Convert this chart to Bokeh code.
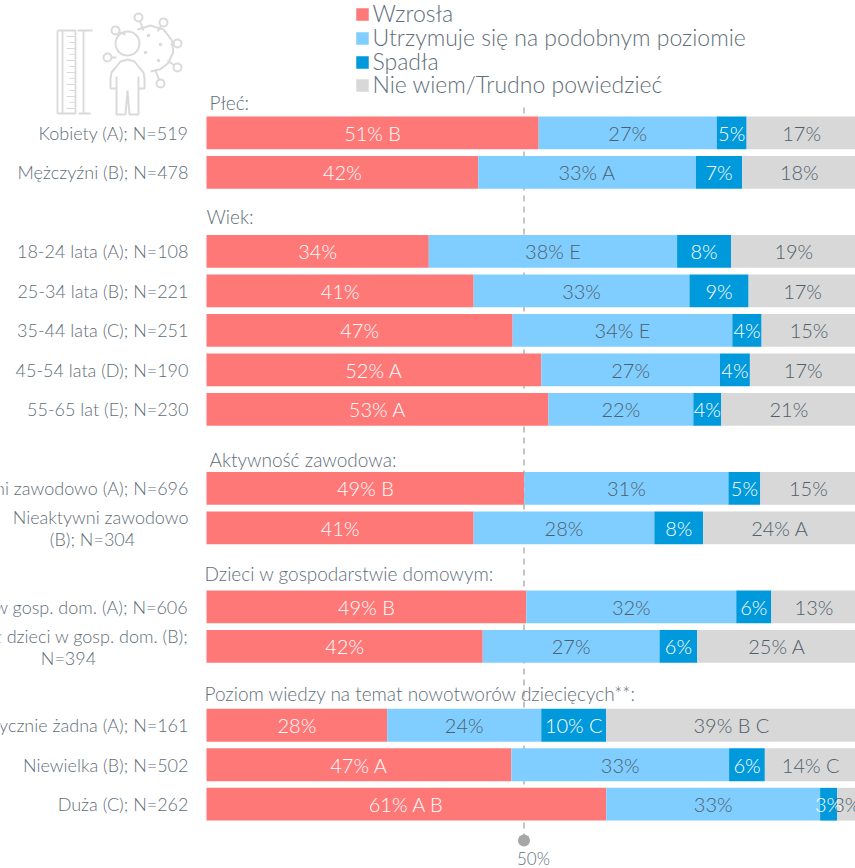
from bokeh.plotting import figure
from bokeh.models import Range1d, ColumnDataSource
from bokeh.core.properties import value
from bokeh.embed import file_html
from bokeh.resources import INLINE
import numpy as np

FONT = "Lato Light"
TXT = "#5f6e79"
TXT_DARK = "#4f5f6c"
TXT_LIGHT = "#ffffff"

series_names = ["Wzrosła", "Utrzymuje się na podobnym poziomie", "Spadła", "Nie wiem/Trudno powiedzieć"]
series_colors = ["#ff7878", "#80ceff", "#0099dc", "#d8d8d8"]

row_labels = ["Kobiety (A); N=519", "Mężczyźni (B); N=478",
              "18-24 lata (A); N=108", "25-34 lata (B); N=221", "35-44 lata (C); N=251",
              "45-54 lata (D); N=190", "55-65 lat (E); N=230",
              "Aktywni zawodowo (A); N=696", "Nieaktywni zawodowo",
              "Dzieci w gosp. dom. (A); N=606", "Bez dzieci w gosp. dom. (B);",
              "Praktycznie żadna (A); N=161", "Niewielka (B); N=502", "Duża (C); N=262"]
row_slots = [0, 1, 3, 4, 5, 6, 7, 9, 10, 12, 13, 15, 16, 17]

wzrosla = [51.1, 41.8, 34.2, 41.1, 47.1, 51.5, 52.6, 48.9, 41.1, 49.2, 42.5, 27.8, 46.9, 61.5]
podobny = [27.4, 33.5, 38.2, 33.2, 33.8, 27.5, 22.3, 31.4, 27.8, 32.3, 27.2, 23.7, 33.5, 32.9]
spadla = [4.6, 7.1, 8.3, 9.1, 4.5, 4.6, 4.3, 4.9, 7.5, 5.4, 5.8, 10.0, 5.5, 2.6]
nie_wiem = [16.9, 17.6, 19.3, 16.6, 14.6, 16.4, 20.8, 14.8, 23.6, 13.1, 24.5, 38.5, 14.1, 3.0]

wzrosla_txt = ["51% B", "42%", "34%", "41%", "47%", "52% A", "53% A", "49% B", "41%", "49% B", "42%", "28%", "47% A", "61% A B"]
podobny_txt = ["27%", "33% A", "38% E", "33%", "34% E", "27%", "22%", "31%", "28%", "32%", "27%", "24%", "33%", "33%"]
spadla_txt = ["5%", "7%", "8%", "9%", "4%", "4%", "4%", "5%", "8%", "6%", "6%", "10% C", "6%", "3%"]
nie_wiem_txt = ["17%", "18%", "19%", "17%", "15%", "17%", "21%", "15%", "24% A", "13%", "25% A", "39% B C", "14% C", "3%"]

W, H = 855, 868
PX_PER_PCT = 6.5
PX_PER_SLOT = 39.49
BAR_LEFT, SLOT0 = 206.0, 132.4

def X(px):
    return (np.asarray(px, dtype=float) - BAR_LEFT) / PX_PER_PCT

def Y(px):
    return (np.asarray(px, dtype=float) - SLOT0) / PX_PER_SLOT

p = figure(width=W, height=H, output_backend="svg", toolbar_location=None,
           x_range=Range1d(float(X(0)), float(X(W))), y_range=Range1d(float(Y(H)), float(Y(0))),
           min_border=0, outline_line_color=None)
p.axis.visible = False
p.grid.visible = False
p.background_fill_color = "white"
p.border_fill_color = "white"

# 50% marker
MARK = float(X(523.5))
p.line([MARK, MARK], [float(Y(107)), float(Y(840))], line_color="#a6a6a6", line_width=1.3, line_dash="6 5")
p.scatter([MARK], [float(Y(840))], size=12, marker="circle", fill_color="#a6a6a6", line_color=None)
p.text([float(X(533))], [float(Y(858))], text=["50%"], text_font=value(FONT), text_font_size="17px",
       text_color=TXT, text_align="center", text_baseline="middle")

# bars
keys = ["w", "p", "s", "n"]
src = ColumnDataSource(dict(y=row_slots, w=wzrosla, p=podobny, s=spadla, n=nie_wiem))
stack = p.hbar_stack(keys, y="y", height=0.83, color=series_colors, line_color=None, source=src)

# segment labels
mat = np.array([wzrosla, podobny, spadla, nie_wiem])
ends = np.cumsum(mat, axis=0)
starts = ends - mat
centers = (starts + ends) / 2
txt_rows = [wzrosla_txt, podobny_txt, spadla_txt, nie_wiem_txt]
txt_cols = [TXT_LIGHT, TXT_DARK, TXT_LIGHT, TXT_DARK]
for c, t, col in zip(centers, txt_rows, txt_cols):
    p.text(list(c), row_slots, text=t, text_font=value(FONT), text_font_size="20px",
           text_color=col, text_align="center", text_baseline="middle")

# row labels
LABEL_Y_SHIFT = {8: -0.27, 10: -0.27}
lab_y = [s + LABEL_Y_SHIFT.get(i, 0) for i, s in enumerate(row_slots)]
p.text([float(X(188))] * len(row_labels), lab_y, text=row_labels, text_font=value(FONT), text_font_size="18px",
       text_color=TXT, text_align="right", text_baseline="middle")
p.text([float(X(92)), float(X(68))], [row_slots[8] + 0.29, row_slots[10] + 0.29], text=["(B); N=304", "N=394"],
       text_font=value(FONT), text_font_size="18px", text_color=TXT, text_align="center", text_baseline="middle")

# group headers
group_titles = ["Płeć:", "Wiek:", "Aktywność zawodowa:", "Dzieci w gospodarstwie domowym:",
                "Poziom wiedzy na temat nowotworów dziecięcych**:"]
title_px = [209, 206, 209, 204, 204]
title_py = [101.5, 215.5, 458.5, 572.5, 692.5]
p.text(list(X(title_px)), list(Y(title_py)), text=group_titles, text_font=value(FONT), text_font_size="19px",
       text_color=TXT, text_align="left", text_baseline="middle")

# legend: colour squares and labels
legend_py = [14, 38, 62, 85]
p.scatter([float(X(362))] * 4, list(Y(legend_py)), marker="square", size=12.5, fill_color=series_colors, line_color=None)
p.text([float(X(372))] * 4, list(Y(np.array(legend_py) - 2)), text=series_names, text_font=value(FONT), text_font_size="23px",
       text_color=TXT, text_align="left", text_baseline="middle")

# icon (decoration, page-pixel coordinates)
IC = "#dadada"
def poly(xs, ys, w=1.8):
    p.line(list(X(xs)), list(Y(ys)), line_color=IC, line_width=w)
poly([57, 75, 75, 57, 57], [30, 30, 113, 113, 30])
poly([62, 62], [30, 113])
for ty in range(36, 112, 6):
    poly([69 if (ty - 36) % 12 else 66, 75], [ty, ty], 1.2)
poly([83, 83], [30, 113])
poly([77, 92], [30, 30])
poly([78, 90], [113, 113])
# head and body
p.scatter([float(X(127))], [float(Y(43))], marker="circle", size=24, fill_color="white", line_color=IC, line_width=2)
poly([116, 111, 110, 110, 116], [66, 72, 78, 88, 88], 2)
poly([138, 143, 144, 144, 138], [66, 72, 78, 88, 88], 2)
poly([116, 120, 127, 134, 138], [66, 61, 59, 61, 66], 2)
poly([116, 116, 125, 127, 129, 138, 138], [76, 114, 114, 90, 114, 114, 76], 2)
# virus
a = np.radians([-125, -90, -55, -20, 10, 40, 65, 90])
p.line(list(X(150 + 23 * np.cos(a))), list(Y(48 + 23 * np.sin(a))), line_color=IC, line_width=2)
ends_x = [138, 163, 177, 177, 160, 115, 107]
ends_y = [17, 22, 43, 67, 83, 30, 57]
from_x = [143, 157, 170, 167, 155, 125, 116]
from_y = [30, 31, 44, 60, 70, 34, 57]
for ex, ey, fx, fy in zip(ends_x, ends_y, from_x, from_y):
    poly([fx, ex], [fy, ey], 2)
p.scatter(list(X(ends_x)), list(Y(ends_y)), marker="circle", size=8, fill_color="white", line_color=IC, line_width=2)
p.scatter(list(X([145, 158, 160, 148])), list(Y([52, 60, 44, 35])), marker="circle", size=3.5, fill_color=IC, line_color=None)

open("out.html", "w").write(file_html(p, INLINE))
